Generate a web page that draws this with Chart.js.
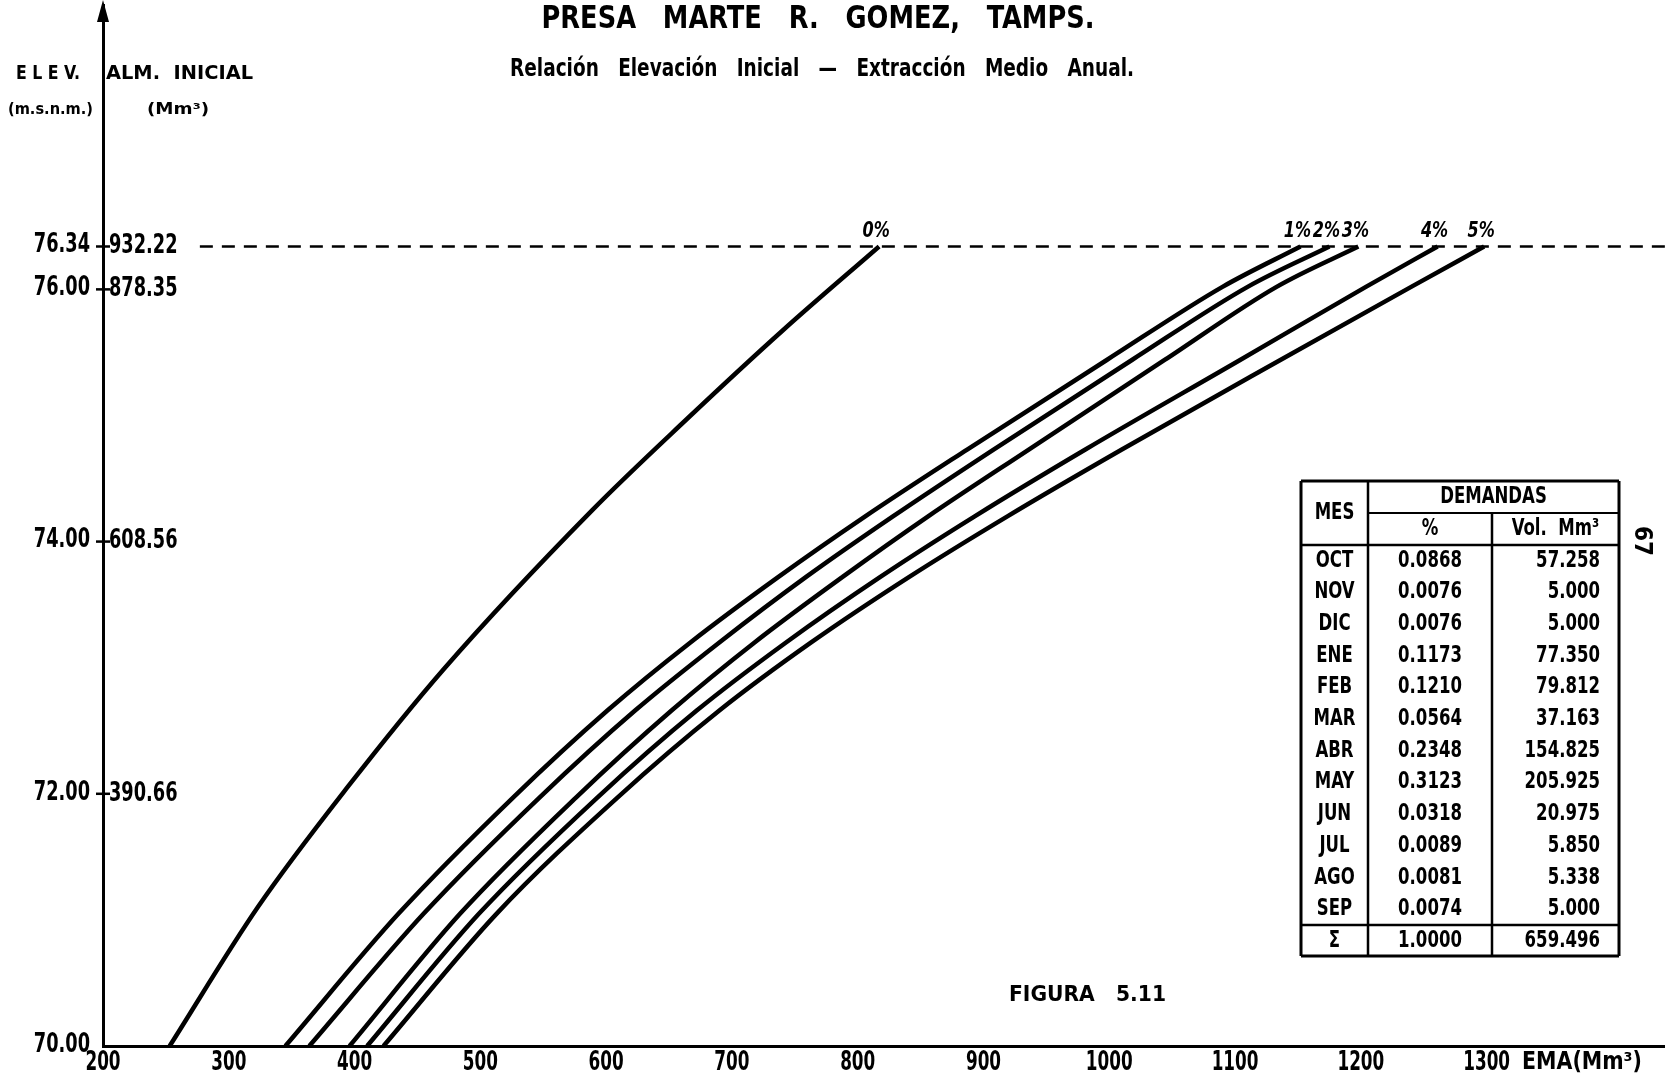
<!DOCTYPE html>
<html>
<head>
<meta charset="utf-8">
<title>Presa Marte R. Gomez</title>
<script src="https://cdn.jsdelivr.net/npm/chart.js@4.4.1/dist/chart.umd.min.js"></script>
<style>
  html, body { margin: 0; padding: 0; background: #fff; }
  canvas { display: block; }
</style>
</head>
<body>
<canvas id="chart" width="1665" height="1078"></canvas>
<script>
// Elevation levels (m.s.n.m.) where the curves were read
const elevLevels = [70.00, 71.05, 71.97, 72.66, 73.20, 73.72, 74.20, 74.73, 75.44, 76.02, 76.34];
// EMA (Mm3) for each extraction growth rate
const ema1 = [345, 435, 526, 601, 667, 737, 806, 887, 998, 1090, 1152];
const ema2 = [364, 455, 547, 623, 690, 759, 828, 908, 1018, 1110, 1175];
const ema3 = [396, 484, 576, 652, 718, 788, 856, 936, 1044, 1133, 1198];
const ema4 = [410, 499, 593, 672, 743, 818, 893, 981, 1104, 1204, 1261];
const ema5 = [423, 513, 609, 690, 763, 841, 919, 1010, 1136, 1240, 1298];

// 0% curve was read at its own levels
const elev0 = [70.00, 71.10, 72.06, 72.99, 74.25, 74.97, 75.68, 76.34];
const ema0 = [253, 323, 395, 471, 589, 664, 741, 817];

const curveLabels = ['0%', '1%', '2%', '3%', '4%', '5%'];

// initial level line
const refElev = 76.34;
const refEma = [277, 1441.8];

// axis ticks
const xTicks = [200, 300, 400, 500, 600, 700, 800, 900, 1000, 1100, 1200, 1300];
const elevTicks = [70.00, 72.00, 74.00, 76.00, 76.34];
const storageTicks = ['', '390.66', '608.56', '878.35', '932.22'];

// demand table
const months = ['OCT', 'NOV', 'DIC', 'ENE', 'FEB', 'MAR', 'ABR', 'MAY', 'JUN', 'JUL', 'AGO', 'SEP'];
const demandPct = ['0.0868', '0.0076', '0.0076', '0.1173', '0.1210', '0.0564', '0.2348', '0.3123', '0.0318', '0.0089', '0.0081', '0.0074'];
const demandVol = ['57.258', '5.000', '5.000', '77.350', '79.812', '37.163', '154.825', '205.925', '20.975', '5.850', '5.338', '5.000'];
const totalPct = '1.0000';
const totalVol = '659.496';

const FONT = "'DejaVu Sans Condensed', 'Liberation Sans', sans-serif";
const NUMF = 'bold 26px ' + FONT;

function pts(xs, ys) {
  return xs.map((x, i) => ({ x: x, y: ys[i] }));
}

function curve(xs, ys) {
  return {
    data: pts(xs, ys),
    showLine: true,
    borderColor: '#000',
    borderWidth: 4.5,
    pointRadius: 0,
    fill: false,
    cubicInterpolationMode: 'monotone'
  };
}

// draw text; w stretches it to a width, sx squeezes it horizontally
function put(ctx, str, x, y, font, align, w, sx) {
  ctx.font = font;
  ctx.textAlign = align || 'left';
  ctx.textBaseline = 'middle';
  let k = sx || 1;
  if (w) k = w / ctx.measureText(str).width;
  ctx.save();
  ctx.translate(x, y);
  ctx.scale(k, 1);
  ctx.fillText(str, 0, 0);
  ctx.restore();
}

function line(ctx, x1, y1, x2, y2, w) {
  ctx.lineWidth = w;
  ctx.beginPath();
  ctx.moveTo(x1, y1);
  ctx.lineTo(x2, y2);
  ctx.stroke();
}

const decor = {
  id: 'decor',
  afterDraw(chart) {
    const { ctx, chartArea: a, scales: { x, y } } = chart;
    ctx.save();
    ctx.fillStyle = '#000';
    ctx.strokeStyle = '#000';

    // arrow on elevation axis
    ctx.beginPath();
    ctx.moveTo(a.left, 0);
    ctx.lineTo(a.left - 6, 22);
    ctx.lineTo(a.left + 6, 22);
    ctx.closePath();
    ctx.fill();
    line(ctx, a.left, 20, a.left, a.top + 2, 3);

    // tick labels, squeezed like the lettering of the original
    x.ticks.forEach(t => {
      put(ctx, String(t.value), x.getPixelForValue(t.value), a.bottom + 17, NUMF, 'center', 0, 0.72);
    });
    y.ticks.forEach(t => {
      put(ctx, t.value.toFixed(2), a.left - 13, y.getPixelForValue(t.value) - 1, NUMF, 'right', 0, 0.76);
    });

    // tick crosses + storage labels
    elevTicks.forEach((v, i) => {
      const py = y.getPixelForValue(v);
      if (i > 0) line(ctx, a.left - 7, py, a.left + 7, py, 2.5);
      if (storageTicks[i]) put(ctx, storageTicks[i], a.left + 6, py, NUMF, 'left', 0, 0.76);
    });

    // curve labels at the top end of each curve
    chart.data.datasets.forEach((ds, i) => {
      if (!curveLabels[i]) return;
      const meta = chart.getDatasetMeta(i);
      const last = meta.data[meta.data.length - 1];
      put(ctx, curveLabels[i], last.x - 3, last.y - 15, 'italic bold 21px ' + FONT, 'center', 0, 0.85);
    });

    // titles
    put(ctx, 'PRESA   MARTE   R.   GOMEZ,   TAMPS.', 818, 20, 'bold 32px ' + FONT, 'center', 553);
    put(ctx, 'Relación   Elevación   Inicial   —   Extracción   Medio   Anual.', 822, 69, 'bold 25px ' + FONT, 'center', 624);

    // axis headers
    put(ctx, 'E L E V.', 16, 74, 'bold 19px ' + FONT, 'left', 64);
    put(ctx, 'ALM.  INICIAL', 106, 74, 'bold 19px ' + FONT, 'left', 147);
    put(ctx, '(m.s.n.m.)', 8, 110, 'bold 15px ' + FONT, 'left', 85);
    put(ctx, '(Mm³)', 147, 110, 'bold 16px ' + FONT, 'left', 62);
    put(ctx, 'EMA(Mm³)', 1522, 1063, 'bold 24px ' + FONT, 'left', 120);
    put(ctx, 'FIGURA   5.11', 1009, 995, 'bold 22px ' + FONT, 'left', 157);

    // page number
    ctx.save();
    ctx.translate(1641, 541);
    ctx.rotate(Math.PI / 2);
    put(ctx, '67', 0, 0, 'bold 24px ' + FONT, 'center');
    ctx.restore();

    // demand table
    const tx = [1301, 1368, 1492, 1619];
    const top = 481, mid = 513, head = 545, rowH = 31.67;
    const sumTop = head + rowH * months.length;
    const bottom = sumTop + 31;
    line(ctx, tx[0], top, tx[3], top, 3);
    line(ctx, tx[0], bottom, tx[3], bottom, 3);
    line(ctx, tx[0], top, tx[0], bottom, 3);
    line(ctx, tx[3], top, tx[3], bottom, 3);
    line(ctx, tx[1], top, tx[1], bottom, 2.5);
    line(ctx, tx[2], mid, tx[2], bottom, 2.5);
    line(ctx, tx[1], mid, tx[3], mid, 2);
    line(ctx, tx[0], head, tx[3], head, 2.5);
    line(ctx, tx[0], sumTop, tx[3], sumTop, 2.5);

    const tf = 'bold 23px ' + FONT;
    const sq = 0.8;
    const c1 = (tx[0] + tx[1]) / 2, c2 = (tx[1] + tx[2]) / 2, c3 = (tx[2] + tx[3]) / 2;
    put(ctx, 'MES', c1, (top + head) / 2, tf, 'center', 0, sq);
    put(ctx, 'DEMANDAS', (tx[1] + tx[3]) / 2, (top + mid) / 2, tf, 'center', 0, sq);
    put(ctx, '%', c2, (mid + head) / 2, tf, 'center', 0, sq);
    put(ctx, 'Vol.  Mm³', c3, (mid + head) / 2, tf, 'center', 0, sq);
    months.forEach((m, i) => {
      const ry = head + rowH * (i + 0.5);
      put(ctx, m, c1, ry, tf, 'center', 0, sq);
      put(ctx, demandPct[i], c2, ry, tf, 'center', 0, sq);
      put(ctx, demandVol[i], tx[3] - 19, ry, tf, 'right', 0, sq);
    });
    const sy = (sumTop + bottom) / 2;
    put(ctx, 'Σ', c1, sy, tf, 'center', 0, sq);
    put(ctx, totalPct, c2, sy, tf, 'center', 0, sq);
    put(ctx, totalVol, tx[3] - 19, sy, tf, 'right', 0, sq);

    ctx.restore();
  }
};

new Chart(document.getElementById('chart'), {
  type: 'scatter',
  data: {
    datasets: [
      curve(ema0, elev0),
      curve(ema1, elevLevels),
      curve(ema2, elevLevels),
      curve(ema3, elevLevels),
      curve(ema4, elevLevels),
      curve(ema5, elevLevels),
      {
        data: refEma.map(x => ({ x: x, y: refElev })),
        showLine: true,
        borderColor: '#000',
        borderWidth: 2.5,
        borderDash: [13, 9],
        pointRadius: 0
      }
    ]
  },
  options: {
    responsive: false,
    animation: false,
    layout: { padding: { top: 5, left: 0, right: 0, bottom: 0 } },
    plugins: {
      legend: { display: false },
      tooltip: { enabled: false }
    },
    scales: {
      x: {
        type: 'linear',
        min: 200,
        max: 1441.8,
        afterBuildTicks: s => { s.ticks = xTicks.map(v => ({ value: v })); },
        afterFit: s => { s.height = 32; s.paddingLeft = 0; s.paddingRight = 0; },
        grid: { display: false, drawTicks: false },
        border: { display: true, color: '#000', width: 3 },
        ticks: { display: false }
      },
      y: {
        type: 'linear',
        min: 70,
        max: 78.255,
        afterBuildTicks: s => { s.ticks = elevTicks.map(v => ({ value: v })); },
        afterFit: s => { s.width = 103; s.paddingTop = 0; s.paddingBottom = 0; },
        grid: { display: false, drawTicks: false },
        border: { display: true, color: '#000', width: 3 },
        ticks: { display: false }
      }
    }
  },
  plugins: [decor]
});
</script>
</body>
</html>
